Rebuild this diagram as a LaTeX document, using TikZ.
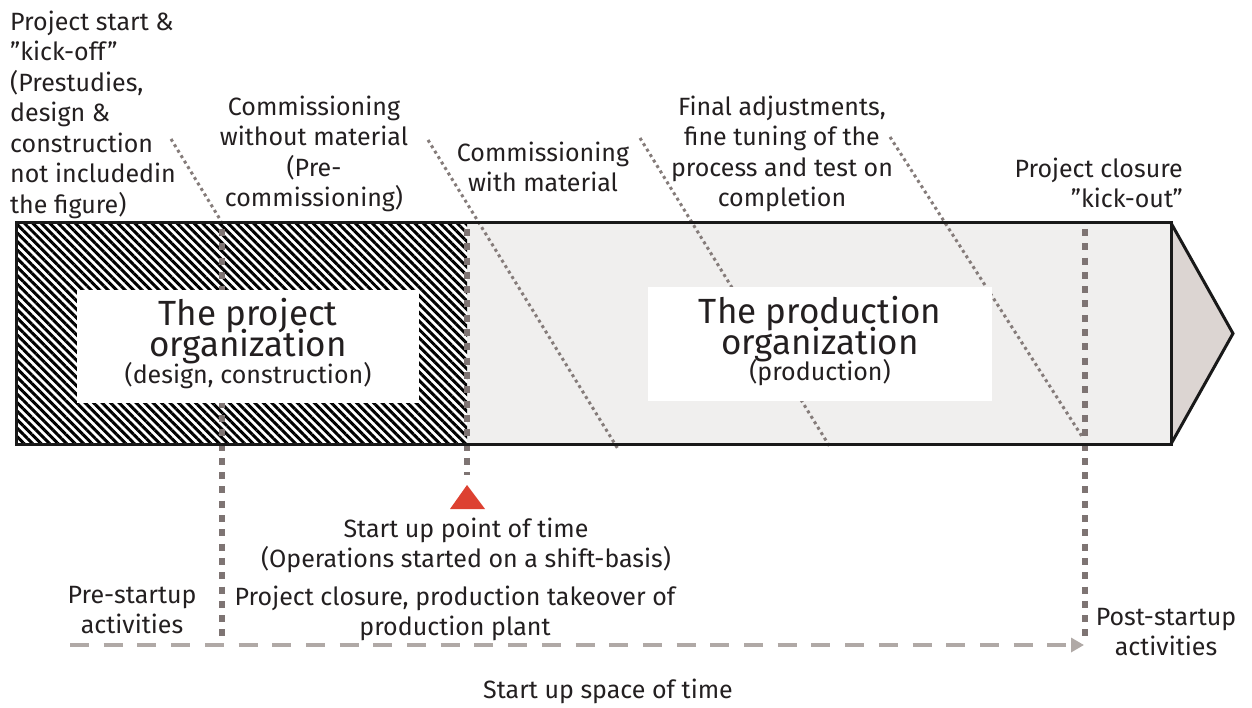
\documentclass[tikz,border=0pt]{standalone}
\usepackage{fontspec}
\setmainfont{Fira Sans}
\usetikzlibrary{patterns.meta,arrows.meta}
\definecolor{txt}{HTML}{231F20}
\definecolor{prodfill}{HTML}{F0EFEE}
\definecolor{tipfill}{HTML}{DCD5D2}
\definecolor{sqdot}{HTML}{7E7473}
\definecolor{diadot}{HTML}{857C7A}
\definecolor{dashc}{HTML}{B0A9A6}
\definecolor{startred}{HTML}{DD4131}
\newcommand\mytop[1]{\rule{0pt}{#1}}
\newcommand\mytight{\lineskiplimit=-100pt\relax}
\tikzset{
  lbl/.style={text=txt, inner sep=0pt, align=center, font=\fontsize{25}{30.5}\selectfont\mytight},
  big/.style={text=txt, inner sep=0pt, align=center, font=\fontsize{35}{31}\selectfont\mytight},
  diag/.style={draw=diadot, line width=3pt, dash pattern=on 3pt off 3.4pt},
  sqline/.style={draw=sqdot, line width=6.8pt, dash pattern=on 7pt off 7.3pt},
  whitebox/.style={fill=white, draw=none, inner sep=0pt, anchor=north west},
  barline/.style={draw=black!90, line width=3pt},
  timeline/.style={draw=dashc, line width=4pt, dash pattern=on 19pt off 14.7pt, -{Triangle[length=13pt,width=14pt]}},
}
\begin{document}
\begin{tikzpicture}[x=1pt,y=-1pt]
\useasboundingbox (0,0) rectangle (1252,708);
% main bar
\fill[prodfill] (467,223) rectangle (1171,444);
\fill[pattern={Lines[angle=-45,distance=6pt,line width=3pt]}] (16,223) rectangle (467,444);
\draw[barline, fill=tipfill, line join=miter] (1171,223) -- (1233,333.5) -- (1171,444);
% diagonal dotted lines
\draw[diag] (171,139) -- (221,221);
\draw[diag] (428,140) -- (618,449);
\draw[diag] (640,138) -- (830,447);
\draw[diag] (890,137) -- (1083,438);
% vertical square dotted lines
\coordinate (k1) at (222,229);
\coordinate (k1b) at (222,643);
\coordinate (su) at (467,229);
\coordinate (sub) at (467,475);
\coordinate (k2) at (1085,229);
\coordinate (k2b) at (1085,643);
\draw[sqline] (k1) -- (k1b);
\draw[sqline] (su) -- (sub);
\draw[sqline] (k2) -- (k2b);
% white boxes
\node[whitebox, minimum width=342pt, minimum height=113pt] (projbox) at (77,290) {};
\node[whitebox, minimum width=344pt, minimum height=114pt] (prodbox) at (648,287) {};
% bar outline
\draw[barline] (16,223) rectangle (1171,444);
% start up marker
\fill[startred] (467,485) -- (485,509) -- (450,509) -- cycle;
% timeline
\coordinate (tl0) at (70,645);
\coordinate (tl1) at (1084,645);
\draw[timeline] (tl0) -- (tl1);
% labels
\node[lbl, align=left, anchor=north west] (kickoff) at (10,6)
  {\mytop{24pt}Project start \&\\”kick-off”\\(Prestudies,\\design \&\\construction\\not includedin\\the figure)};
\node[lbl, anchor=north] (cwo) at (314,91)
  {\mytop{24pt}Commissioning\\without material\\(Pre-\\commissioning)};
\node[lbl, anchor=north] (cwm) at (543,137)
  {\mytop{24pt}Commissioning\\with material};
\node[lbl, anchor=north] (final) at (782,91)
  {\mytop{24pt}Final adjustments,\\fine tuning of the\\process and test on\\completion};
\node[lbl, align=right, anchor=north east] (kickout) at (1183,153)
  {\mytop{24pt}Project closure\\”kick-out”};
\node[big, anchor=north] (projt) at (248,293) {\mytop{32pt}The project\\organization};
\node[lbl, anchor=base] (projs) at (248,383) {(design, construction)};
\node[big, anchor=north] (prodt) at (820,291) {\mytop{32pt}The production\\organization};
\node[lbl, anchor=base] (prods) at (820,380) {(production)};
\node[lbl, anchor=north] (supt) at (466,513)
  {\mytop{24pt}Start up point of time\\(Operations started on a shift-basis)};
\node[lbl, anchor=north] (takeover) at (455,581)
  {\mytop{24pt}Project closure, production takeover of\\production plant};
\node[lbl, anchor=north] (pre) at (132,579) {\mytop{24pt}Pre-startup\\activities};
\node[lbl, anchor=north] (post) at (1166,601) {\mytop{24pt}Post-startup\\activities};
\node[lbl, anchor=base] (space) at (608,698) {Start up space of time};
\end{tikzpicture}
\end{document}
